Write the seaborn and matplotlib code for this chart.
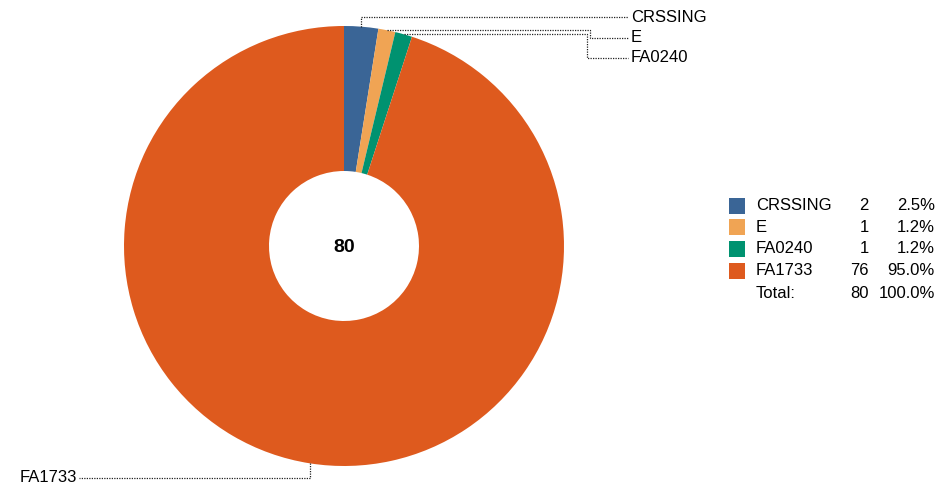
import numpy as np
import matplotlib
matplotlib.use("Agg")
import matplotlib.pyplot as plt
import seaborn as sns

# data
categories = ["CRSSING", "E", "FA0240", "FA1733"]
counts = [2, 1, 1, 76]
colors = ["#3A6596", "#F0A454", "#009270", "#DE5A1E"]

sns.set_style("white")
plt.rcParams['font.family'] = ['Liberation Sans', 'DejaVu Sans']
plt.rcParams['text.color'] = 'black'

W, H = 942, 484
fig = plt.figure(figsize=(W / 100, H / 100), dpi=100)
ax = fig.add_axes([0, 0, 1, 1])
ax.set_aspect("equal")

cx, cy, r = 344, H - 246, 220
total = sum(counts)

wedges, _ = ax.pie(counts, colors=colors, startangle=90, counterclock=False,
                   center=(cx, cy), radius=r, frame=True,
                   wedgeprops=dict(width=r - 75, linewidth=0))
ax.set_xlim(0, W)
ax.set_ylim(0, H)
ax.axis("off")

ax.text(cx, cy, str(total), ha="center", va="center_baseline", fontsize=14, fontweight="bold")

# leader lines to outside labels
mids = []
start = 90.0
for c in counts:
    span = 360.0 * c / total
    mids.append(np.deg2rad(start - span / 2))
    start -= span

line_kw = dict(color="#222222", linestyle=(0, (1, 1)), linewidth=0.9)
pts = [(cx + r * np.cos(a), cy + r * np.sin(a)) for a in mids]

# CRSSING
x0, y0 = pts[0]
ly = H - 17
ax.plot([x0, x0, 628], [y0, ly, ly], **line_kw)
ax.text(631, ly, categories[0], ha="left", va="center", fontsize=12)
# E
x0, y0 = pts[1]
ly = H - 38
ax.plot([x0, 590, 590, 628], [y0, y0, ly, ly], **line_kw)
ax.text(631, ly, categories[1], ha="left", va="center", fontsize=12)
# FA0240
x0, y0 = pts[2]
ly = H - 58
ax.plot([x0, 587, 587, 628], [y0, y0, ly, ly], **line_kw)
ax.text(631, ly, categories[2], ha="left", va="center", fontsize=12)
# FA1733
x0, y0 = pts[3]
ly = H - 478
ax.plot([x0, x0, 79], [y0, ly, ly], **line_kw)
ax.text(77, ly, categories[3], ha="right", va="center", fontsize=12)

# legend table
row_y = [206, 227, 248.5, 270.5]
for name, c, col, yy in zip(categories, counts, colors, row_y):
    y = H - yy
    ax.add_patch(plt.Rectangle((729, y - 8), 16, 16, color=col, linewidth=0))
    ax.text(756, y, name, ha="left", va="center", fontsize=12)
    ax.text(869, y, str(c), ha="right", va="center", fontsize=12)
    ax.text(935, y, f"{100 * c / total:.1f}%", ha="right", va="center", fontsize=12)
y = H - 293
ax.text(756, y, "Total:", ha="left", va="center", fontsize=12)
ax.text(869, y, str(total), ha="right", va="center", fontsize=12)
ax.text(935, y, "100.0%", ha="right", va="center", fontsize=12)

fig.savefig("out.png", dpi=100)
